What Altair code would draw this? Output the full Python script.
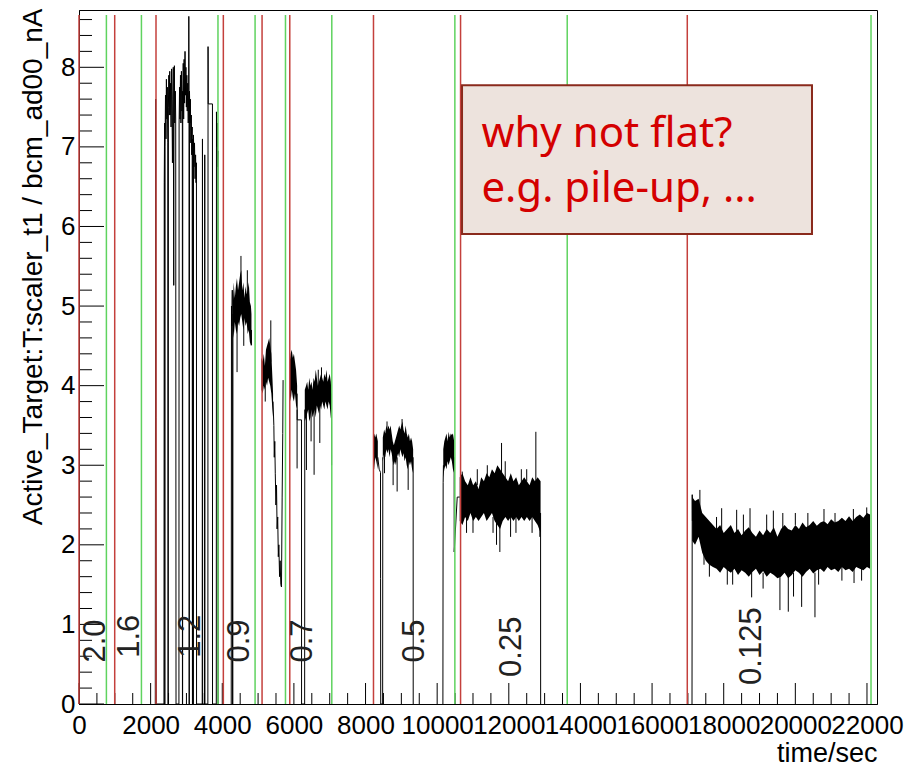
import altair as alt
import pandas as pd

W, H = 798, 694
X_MAX, Y_MAX = 22280, 8.72
FONT = "Liberation Sans"

# ---------------- axis tick labels ----------------
x_tick_labels = [0, 2000, 4000, 6000, 8000, 10000, 12000, 14000, 16000, 18000, 20000, 22000]
y_tick_labels = [0, 1, 2, 3, 4, 5, 6, 7, 8]

# ---------------- run boundary markers ----------------
green_t = [765, 1743, 3880, 4916, 5765, 7058, 10494, 13631, 22113]
red_t = [0, 997, 2150, 4030, 5111, 5885, 8222, 10653, 16983]

# ---------------- current labels (nA) ----------------
current_labels = ["2.0", "1.6", "1.2", "0.9", "0.7", "0.5", "0.25", "0.125"]
current_label_t = [486, 1416, 3140, 4488, 6248, 9376, 12077, 18780]
current_label_v = [0.52, 0.58, 0.58, 0.52, 0.52, 0.52, 0.34, 0.24]

# ---------------- sparse parts of the series (t, value) ----------------
run_12 = [(2130, 0), (2142, 7.6), (2150, 3.6), (2158, 0),
          (2372, 0), (2380, 6.55), (2390, 7.3), (2394, 0), (2398, 0), (2402, 7.0), (2415, 7.65),
          (2428, 7.1), (2440, 7.85), (2452, 7.35), (2465, 7.75), (2478, 7.05), (2486, 0), (2492, 0),
          (2496, 7.5), (2508, 7.9), (2520, 7.4), (2533, 7.95), (2545, 7.4), (2558, 7.8), (2570, 7.25),
          (2585, 7.98), (2598, 7.4), (2609, 6.8), (2620, 7.6), (2632, 8.0), (2645, 5.26), (2652, 7.5),
          (2663, 8.02), (2673, 7.3), (2690, 7.7), (2700, 7.35), (2709, 0),
          (2790, 0), (2795, 7.3), (2808, 7.75), (2820, 7.35), (2833, 7.9), (2846, 7.3), (2860, 7.95),
          (2873, 7.45), (2885, 7.7), (2888, 0), (2893, 0), (2897, 7.6), (2910, 8.05), (2922, 7.35),
          (2935, 8.1), (2948, 7.55), (2960, 8.2), (2972, 7.65), (2985, 8.0), (2998, 7.5), (3010, 7.9),
          (3022, 7.45), (3035, 7.8), (3050, 7.3), (3062, 7.7), (3066, 8.64), (3072, 7.6), (3074, 0),
          (3080, 0), (3085, 7.7), (3098, 7.3), (3110, 7.6), (3122, 7.05), (3135, 7.4), (3148, 6.9),
          (3160, 7.25), (3167, 0), (3172, 0), (3176, 7.1), (3184, 6.6), (3186, 0), (3192, 0),
          (3196, 7.15), (3210, 6.75), (3225, 7.05), (3240, 6.6), (3255, 6.9), (3268, 6.55),
          (3279, 6.8), (3282, 0), (3440, 0), (3447, 7.1), (3452, 0), (3505, 0), (3511, 6.9), (3516, 0),
          (3598, 0), (3603, 8.26), (3608, 7.54), (3726, 7.54), (3728, 0),
          (3833, 0), (3838, 7.44), (3848, 7.0), (3858, 7.3), (3868, 6.75), (3878, 6.95), (3883, 0)]
run_09a = [(4250, 0), (4257, 5.0), (4268, 4.75), (4280, 5.2), (4288, 0), (4294, 0), (4298, 4.9)]
run_09b = [(4815, 4.7), (4817, 4.51)]
run_07a = [(5418, 3.8), (5440, 3.5), (5452, 3.1), (5466, 3.3), (5480, 2.9), (5498, 2.5),
           (5515, 2.75), (5530, 2.2), (5548, 2.35), (5565, 1.85), (5580, 2.0), (5600, 1.6), (5615, 1.8),
           (5635, 1.5), (5653, 1.47), (5672, 2.6), (5689, 3.4), (5698, 4.07)]
run_07b = [(6090, 3.9), (6092, 3.57), (6212, 3.57), (6214, 0), (6300, 0), (6304, 3.7)]
run_07c = [(7050, 3.9), (7052, 3.0)]
run_05a = [(8343, 3.1), (8380, 2.95), (8418, 2.91), (8420, 1.58), (8424, 0), (8478, 0), (8482, 3.1)]
run_05b = [(9329, 3.1), (9331, 0)]
run_05c = [(10160, 0), (10167, 2.78), (10175, 3.0)]
run_05d = [(10474, 3.1), (10476, 1.91), (10560, 2.6), (10630, 2.6)]
run_025 = [(12887, 2.4), (12889, 0)]
run_0125 = [(17115, 0), (17121, 2.63), (17125, 2.3)]

# ---------------- dense noisy parts: band envelope (t, low, high) ----------------
band_09 = [(4298, 4.7, 5.05), (4320, 4.6, 5.3), (4350, 4.8, 5.1), (4380, 4.7, 5.25), (4410, 4.65, 5.35),
           (4440, 4.8, 5.2), (4470, 4.75, 5.3), (4500, 4.85, 5.4), (4530, 4.9, 5.45), (4560, 4.8, 5.2),
           (4590, 4.7, 5.3), (4620, 4.85, 5.1), (4650, 4.75, 5.25), (4680, 4.8, 5.15), (4710, 4.65, 5.2),
           (4740, 4.7, 5.3), (4770, 4.55, 5.05), (4800, 4.5, 5.0), (4815, 4.5, 4.9)]
band_07a = [(5094, 3.95, 4.35), (5130, 3.9, 4.3), (5160, 4.0, 4.4), (5190, 3.95, 4.25), (5220, 4.05, 4.45),
            (5250, 4.0, 4.5), (5280, 4.1, 4.55), (5310, 4.05, 4.6), (5340, 4.0, 4.5), (5370, 3.9, 4.4),
            (5400, 3.7, 4.1), (5418, 3.6, 3.9)]
band_07b = [(5885, 3.9, 4.3), (5910, 3.8, 4.4), (5940, 3.95, 4.45), (5970, 3.85, 4.35), (6000, 3.8, 4.4),
            (6030, 3.9, 4.3), (6060, 3.75, 4.2), (6090, 3.7, 4.0)]
band_07c = [(6304, 3.55, 3.95), (6340, 3.6, 4.0), (6370, 3.65, 4.05), (6400, 3.7, 3.95), (6430, 3.55, 4.1),
            (6460, 3.6, 4.0), (6490, 3.7, 4.05), (6520, 3.6, 3.95), (6550, 3.65, 4.1), (6580, 3.7, 4.05),
            (6610, 3.6, 4.2), (6640, 3.75, 4.1), (6670, 3.7, 4.0), (6700, 3.65, 4.05), (6730, 3.75, 4.1),
            (6760, 3.7, 4.15), (6790, 3.8, 4.1), (6820, 3.75, 4.05), (6850, 3.7, 4.15), (6880, 3.8, 4.1),
            (6910, 3.75, 4.2), (6940, 3.7, 4.05), (6970, 3.8, 4.1), (7000, 3.75, 4.15), (7030, 3.6, 4.05),
            (7050, 3.55, 3.9)]
band_05a = [(8211, 3.0, 3.3), (8240, 2.95, 3.4), (8270, 3.1, 3.35), (8300, 3.05, 3.4), (8343, 2.95, 3.3)]
band_05b = [(8482, 3.05, 3.35), (8520, 3.15, 3.45), (8550, 3.1, 3.4), (8580, 3.2, 3.5), (8610, 3.15, 3.45),
            (8640, 3.2, 3.5), (8670, 3.1, 3.45), (8700, 3.2, 3.5), (8730, 3.15, 3.4), (8760, 3.05, 3.3),
            (8790, 3.0, 3.25), (8820, 3.05, 3.3), (8850, 3.0, 3.35), (8880, 3.1, 3.4), (8910, 3.15, 3.45),
            (8940, 3.1, 3.5), (8970, 3.2, 3.45), (9000, 3.15, 3.5), (9030, 3.1, 3.55), (9060, 3.15, 3.45),
            (9090, 3.05, 3.4), (9120, 3.1, 3.5), (9150, 3.0, 3.4), (9180, 2.95, 3.35), (9210, 3.05, 3.4),
            (9240, 3.0, 3.3), (9270, 3.05, 3.35), (9300, 2.95, 3.3), (9329, 2.9, 3.2)]
band_05c = [(10170, 2.85, 3.2), (10200, 2.95, 3.3), (10230, 3.0, 3.35), (10260, 2.95, 3.4), (10290, 3.05, 3.3),
            (10320, 3.0, 3.42), (10350, 3.05, 3.35), (10380, 3.1, 3.4), (10410, 3.05, 3.38),
            (10440, 2.95, 3.4), (10474, 2.9, 3.3)]
band_025 = [(10630, 2.3, 2.85), (10705, 2.25, 2.9), (10780, 2.35, 2.8), (10855, 2.3, 2.75), (10930, 2.4, 2.85),
            (11005, 2.3, 2.75), (11080, 2.35, 2.8), (11155, 2.3, 2.7), (11230, 2.35, 2.85), (11305, 2.4, 2.8),
            (11380, 2.3, 2.9), (11455, 2.35, 2.85), (11530, 2.4, 2.95), (11605, 2.3, 2.9), (11680, 2.25, 3.0),
            (11755, 2.2, 2.95), (11830, 2.3, 2.9), (11905, 2.35, 2.85), (11980, 2.3, 2.8), (12055, 2.35, 2.9),
            (12130, 2.3, 2.8), (12205, 2.35, 2.85), (12280, 2.3, 2.75), (12355, 2.35, 2.8), (12430, 2.3, 2.85),
            (12505, 2.35, 2.8), (12580, 2.3, 2.75), (12655, 2.35, 2.85), (12730, 2.3, 2.8), (12805, 2.25, 2.85),
            (12887, 2.15, 2.8)]
band_0125 = [(17121, 2.05, 2.6), (17200, 2.0, 2.55), (17300, 2.1, 2.58), (17400, 1.9, 2.4), (17500, 1.8, 2.35),
             (17600, 1.75, 2.3), (17700, 1.72, 2.25), (17800, 1.7, 2.2), (17900, 1.65, 2.25), (18000, 1.72, 2.15),
             (18100, 1.68, 2.2), (18200, 1.65, 2.25), (18300, 1.7, 2.15), (18400, 1.62, 2.2), (18500, 1.68, 2.12),
             (18600, 1.65, 2.18), (18700, 1.6, 2.22), (18800, 1.66, 2.15), (18900, 1.7, 2.1), (19000, 1.62, 2.18),
             (19100, 1.67, 2.12), (19200, 1.6, 2.2), (19300, 1.65, 2.15), (19400, 1.62, 2.22), (19500, 1.58, 2.1),
             (19600, 1.6, 2.2), (19700, 1.65, 2.25), (19800, 1.58, 2.2), (19900, 1.62, 2.18), (20000, 1.68, 2.25),
             (20100, 1.65, 2.2), (20200, 1.6, 2.28), (20300, 1.66, 2.22), (20400, 1.7, 2.25), (20500, 1.64, 2.3),
             (20600, 1.68, 2.24), (20700, 1.7, 2.28), (20800, 1.66, 2.3), (20900, 1.72, 2.26), (21000, 1.68, 2.32),
             (21100, 1.7, 2.28), (21200, 1.66, 2.3), (21300, 1.72, 2.34), (21400, 1.68, 2.3), (21500, 1.7, 2.36),
             (21600, 1.66, 2.3), (21700, 1.72, 2.35), (21800, 1.7, 2.38), (21900, 1.68, 2.34), (22000, 1.72, 2.4),
             (22085, 1.7, 2.38)]

# ---------------- isolated spikes (t, low, high) ----------------
spikes = [(4413, 4.17, 4.8), (4522, 5.1, 5.63), (4700, 5.1, 5.45), (4600, 4.5, 4.9),
          (5355, 4.3, 4.82), (5200, 3.8, 4.1),
          (6089, 2.96, 3.7), (6350, 2.94, 3.7), (6564, 2.88, 3.7), (6723, 3.28, 3.8), (6770, 4.0, 4.23),
          (6680, 4.0, 4.2), (6480, 3.3, 3.7),
          (8600, 3.3, 3.55), (9020, 3.3, 3.58), (8882, 2.67, 3.1), (9190, 2.69, 3.1), (8770, 2.75, 3.1),
          (8530, 2.9, 3.2),
          (11797, 2.8, 3.28), (12755, 2.7, 3.42), (11750, 1.91, 2.4), (11657, 2.0, 2.4), (12867, 2.1, 2.4),
          (10700, 2.7, 2.92), (11000, 2.15, 2.4), (11400, 2.8, 3.0), (12200, 2.15, 2.35), (12500, 2.8, 2.95),
          (10820, 2.15, 2.4), (11120, 2.75, 2.95), (11560, 2.15, 2.35), (11900, 2.8, 3.05), (12050, 2.1, 2.35),
          (12350, 2.75, 2.95), (12650, 2.15, 2.35),
          (17335, 2.4, 2.69), (17943, 2.1, 2.46), (18362, 2.1, 2.44), (18735, 2.1, 2.46), (19386, 2.1, 2.43),
          (21108, 2.2, 2.4), (21620, 2.2, 2.45), (21993, 2.3, 2.47), (18780, 1.34, 1.7), (19570, 1.18, 1.65),
          (19803, 1.16, 1.65), (20176, 1.22, 1.65), (20548, 1.09, 1.65), (21639, 1.52, 1.7), (18100, 1.5, 1.7),
          (19100, 1.45, 1.65), (20000, 2.25, 2.4), (20800, 2.3, 2.45), (17600, 1.6, 1.8), (19950, 1.35, 1.65),
          (17450, 1.75, 1.95), (17800, 2.1, 2.35), (18250, 1.5, 1.7), (18550, 2.1, 2.38), (19200, 2.1, 2.38),
          (19650, 2.15, 2.4), (20350, 2.15, 2.4), (20650, 1.5, 1.7), (21300, 1.55, 1.75), (21850, 1.55, 1.72)]

# ---------------- annotation box ----------------
note_lines = ["why not flat?", "e.g. pile-up, ..."]
note_line_v = [7.0, 6.31]
note_t = 11235
box_t = [10694, 20465]
box_v = [5.905, 7.776]

# ---------------- build tables ----------------
runs = [run_12, run_09a, run_09b, run_07a, run_07b, run_07c, run_05a, run_05b, run_05c, run_05d,
        run_025, run_0125]
line_rows = []
for r, pts in enumerate(runs):
    for i, (t, v) in enumerate(pts):
        line_rows.append({"run": r, "i": i, "t": t, "v": v})
df_line = pd.DataFrame(line_rows)

bands = [band_09, band_07a, band_07b, band_07c, band_05a, band_05b, band_05c, band_025, band_0125]
band_rows = []
for b, pts in enumerate(bands):
    for t, lo, hi in pts:
        band_rows.append({"band": b, "t": t, "lo": lo, "hi": hi})
df_band = pd.DataFrame(band_rows)

df_spk = pd.DataFrame(spikes, columns=["t", "lo", "hi"])
df_green = pd.DataFrame({"t": green_t})
df_red = pd.DataFrame({"t": red_t})
df_lab = pd.DataFrame({"lab": current_labels, "t": current_label_t, "v": current_label_v})
df_note = pd.DataFrame({"txt": note_lines, "t": [note_t] * 2, "v": note_line_v})
df_box = pd.DataFrame({"t": [box_t[0]], "t2": [box_t[1]], "v": [box_v[0]], "v2": [box_v[1]]})

x_minor = [m for m in range(0, X_MAX, 500) if m % 2000 != 0]
y_minor = [round(k * 0.2, 1) for k in range(0, 44) if k % 5 != 0]
df_xmaj = pd.DataFrame({"t": x_tick_labels})
df_xmin = pd.DataFrame({"t": x_minor})
df_ymaj = pd.DataFrame({"v": y_tick_labels})
df_ymin = pd.DataFrame({"v": y_minor})

xs = alt.Scale(domain=[0, X_MAX], nice=False, zero=False)
ys = alt.Scale(domain=[0, Y_MAX], nice=False, zero=False)

x_axis = alt.Axis(values=x_tick_labels, format="d", title="time/sec",
                  labelFont=FONT, labelFontSize=26, labelColor="black", labelPadding=8,
                  labelOverlap=False, labelFlush=False, ticks=False, tickSize=0, grid=False,
                  domainColor="black", domainWidth=1,
                  titleFont=FONT, titleFontSize=27, titleFontWeight="normal", titleColor="black",
                  titleAnchor="end", titleAlign="right", titleBaseline="alphabetic",
                  titleX=W, titleY=57)
y_axis = alt.Axis(values=y_tick_labels, format="d", title="Active_Target:T:scaler_t1 / bcm_ad00_nA",
                  labelFont=FONT, labelFontSize=26, labelColor="black", labelPadding=4,
                  labelOverlap=False, labelFlush=False, ticks=False, tickSize=0, grid=False,
                  domainColor="black", domainWidth=1,
                  titleFont=FONT, titleFontSize=28, titleFontWeight="normal", titleColor="black",
                  titleAngle=270, titleAlign="right", titleBaseline="alphabetic",
                  titleX=-38, titleY=-2)


def X(f="t"):
    return alt.X(f"{f}:Q", scale=xs, axis=x_axis)


def Y(f):
    return alt.Y(f"{f}:Q", scale=ys, axis=y_axis)


band_layer = alt.Chart(df_band).mark_area(color="black", opacity=1).encode(
    x=X(), y=Y("lo"), y2="hi:Q", detail="band:N",
)
line_layer = alt.Chart(df_line).mark_line(color="black", strokeWidth=1).encode(
    x=X(), y=Y("v"), detail="run:N", order="i:Q"
)
spike_layer = alt.Chart(df_spk).mark_rule(color="black", strokeWidth=1).encode(
    x=X(), y=Y("lo"), y2="hi:Q"
)
xmaj = alt.Chart(df_xmaj).mark_rule(color="black", strokeWidth=1).encode(
    x=X(), y=alt.value(H), y2=alt.value(H - 21))
xmin = alt.Chart(df_xmin).mark_rule(color="black", strokeWidth=1).encode(
    x=X(), y=alt.value(H), y2=alt.value(H - 11))
ymaj = alt.Chart(df_ymaj).mark_rule(color="black", strokeWidth=1).encode(
    y=Y("v"), x=alt.value(0), x2=alt.value(25))
ymin = alt.Chart(df_ymin).mark_rule(color="black", strokeWidth=1).encode(
    y=Y("v"), x=alt.value(0), x2=alt.value(13))
green_layer = alt.Chart(df_green).mark_rule(color="#5fd35f", strokeWidth=1.5).encode(
    x=X(), y=alt.value(H), y2=alt.value(5))
red_layer = alt.Chart(df_red).mark_rule(color="#c4403c", strokeWidth=1.5).encode(
    x=X(), y=alt.value(H), y2=alt.value(5))
box_layer = alt.Chart(df_box).mark_rect(fill="#ede3dd", stroke="#8a2a1c", strokeWidth=2).encode(
    x=X(), x2="t2:Q", y=Y("v"), y2="v2:Q")
note_layer = alt.Chart(df_note).mark_text(
    align="left", baseline="alphabetic", font="Comic Sans MS, Noto Sans", fontSize=42, color="#d40000"
).encode(x=X(), y=Y("v"), text="txt:N")
lab_layer = alt.Chart(df_lab).mark_text(
    align="left", baseline="middle", angle=270, font=FONT, fontSize=31, color="#222222"
).encode(x=X(), y=Y("v"), text="lab:N")

chart = alt.layer(
    band_layer, line_layer, spike_layer, xmaj, xmin, ymaj, ymin,
    green_layer, red_layer, box_layer, note_layer, lab_layer
).properties(
    width=W, height=H,
    autosize=alt.AutoSizeParams(type="none"),
    padding={"left": 79, "top": 10, "right": 32, "bottom": 62},
    background="white",
).configure_view(stroke="black", strokeWidth=1)

chart.save("out.html", embed_options={"renderer": "svg", "actions": False})
